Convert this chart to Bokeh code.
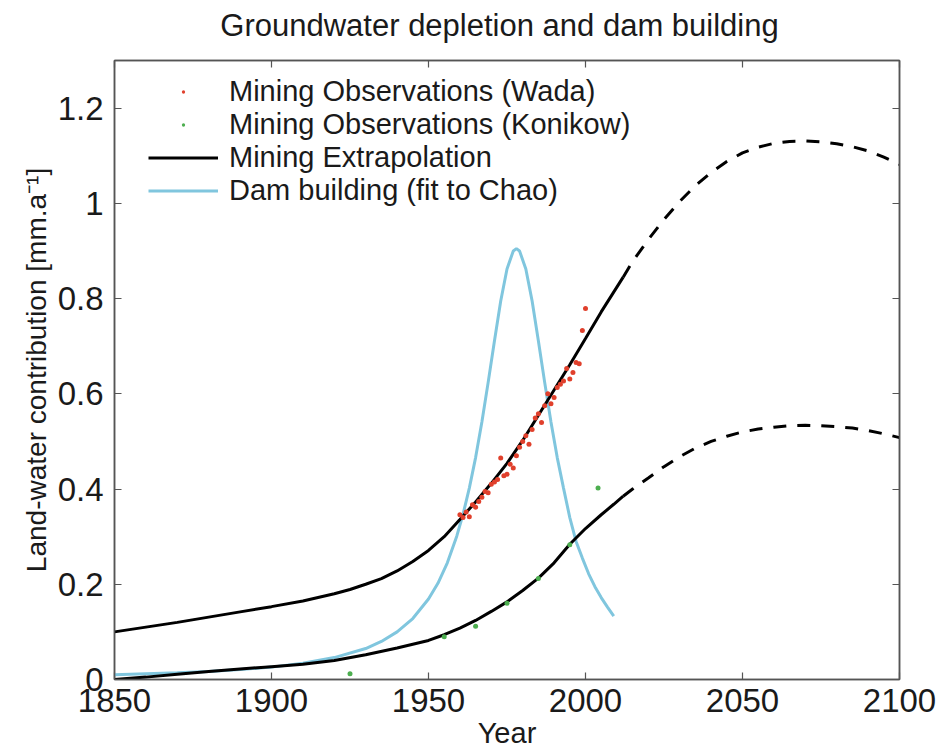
from bokeh.plotting import figure
from bokeh.models import Range1d, LinearAxis, FixedTicker, Legend, LegendItem, Label
from bokeh.embed import file_html
from bokeh.resources import INLINE

# ---------------- data ----------------
wada_years = list(range(1960, 2001))
wada_values = [0.346, 0.340, 0.352, 0.342, 0.367, 0.362, 0.374, 0.383, 0.395, 0.392,
               0.410, 0.415, 0.420, 0.465, 0.428, 0.431, 0.452, 0.444, 0.470, 0.488,
               0.500, 0.512, 0.494, 0.525, 0.549, 0.558, 0.540, 0.575, 0.600, 0.579,
               0.592, 0.613, 0.620, 0.627, 0.653, 0.631, 0.645, 0.666, 0.663, 0.733,
               0.779]

konikow_years = [1925, 1955, 1965, 1975, 1985, 1995, 2004]
konikow_values = [0.012, 0.090, 0.112, 0.160, 0.212, 0.283, 0.402]

upper_years = [1850, 1860, 1870, 1880, 1890, 1900, 1910, 1920, 1925, 1930, 1935, 1940,
               1945, 1950, 1955, 1960, 1965, 1970, 1975, 1980, 1985, 1990, 1995, 2000,
               2005, 2012]
upper_values = [0.100, 0.110, 0.120, 0.131, 0.142, 0.153, 0.165, 0.180, 0.189, 0.200,
                0.212, 0.228, 0.248, 0.271, 0.300, 0.336, 0.373, 0.412, 0.454, 0.502,
                0.555, 0.608, 0.661, 0.716, 0.772, 0.845]

upper_proj_years = [2012, 2015, 2020, 2025, 2030, 2035, 2040, 2045, 2050, 2055, 2060,
                    2065, 2070, 2075, 2080, 2085, 2090, 2095, 2100]
upper_proj_values = [0.845, 0.878, 0.924, 0.966, 1.004, 1.037, 1.065, 1.088, 1.106,
                     1.118, 1.126, 1.130, 1.131, 1.129, 1.125, 1.119, 1.110, 1.097, 1.082]

lower_years = [1850, 1860, 1870, 1880, 1890, 1900, 1910, 1920, 1930, 1940, 1950, 1955,
               1960, 1965, 1970, 1975, 1980, 1985, 1990, 1995, 2000, 2005, 2009, 2012]
lower_values = [0.000, 0.005, 0.011, 0.017, 0.022, 0.027, 0.032, 0.040, 0.052, 0.066,
                0.082, 0.094, 0.108, 0.124, 0.143, 0.163, 0.187, 0.213, 0.245, 0.284,
                0.317, 0.346, 0.368, 0.385]

lower_proj_years = [2012, 2015, 2020, 2025, 2030, 2035, 2040, 2045, 2050, 2055, 2060,
                    2065, 2070, 2075, 2080, 2085, 2090, 2095, 2100]
lower_proj_values = [0.385, 0.400, 0.423, 0.447, 0.468, 0.486, 0.500, 0.511, 0.520,
                     0.526, 0.530, 0.533, 0.534, 0.533, 0.531, 0.528, 0.523, 0.516, 0.508]

dam_years = [1850, 1860, 1870, 1880, 1890, 1900, 1910, 1920, 1930, 1935, 1940, 1945,
             1950, 1953, 1956, 1959, 1961, 1963, 1965, 1967, 1969, 1971, 1973, 1975,
             1977, 1978, 1979, 1981, 1983, 1985, 1987, 1989, 1991, 1993, 1995, 1997,
             1999, 2001, 2003, 2005, 2007, 2009]
dam_values = [0.010, 0.012, 0.014, 0.017, 0.021, 0.026, 0.034, 0.046, 0.065, 0.080,
              0.100, 0.128, 0.169, 0.202, 0.245, 0.301, 0.347, 0.402, 0.466, 0.541,
              0.624, 0.711, 0.795, 0.862, 0.900, 0.905, 0.900, 0.862, 0.795, 0.711,
              0.624, 0.541, 0.466, 0.402, 0.340, 0.290, 0.255, 0.222, 0.195, 0.172,
              0.152, 0.133]

x_ticks = [1850, 1900, 1950, 2000, 2050, 2100]
y_ticks = [0, 0.2, 0.4, 0.6, 0.8, 1, 1.2]
y_tick_labels = ["0", "0.2", "0.4", "0.6", "0.8", "1", "1.2"]

TITLE = "Groundwater depletion and dam building"
X_LABEL = "Year"
Y_LABEL = "Land-water contribution [mm.a\u207b\u00b9]"

# ---------------- styling ----------------
FONT = "Liberation Sans"
TEXT_COLOR = "#1a1a1a"
AXIS_COLOR = "#555555"
BLUE = "#80c6de"

p = figure(width=937, height=751, output_backend="svg", toolbar_location=None,
           x_range=Range1d(1850, 2100), y_range=Range1d(0, 1.3),
           min_border_left=114, min_border_right=38,
           min_border_top=60, min_border_bottom=72)

p.xgrid.visible = False
p.ygrid.visible = False
p.outline_line_color = AXIS_COLOR
p.outline_line_width = 1.5
p.background_fill_color = "white"
p.border_fill_color = "white"


def style_axis(ax, show_labels=True):
    ax.axis_line_color = AXIS_COLOR
    ax.axis_line_width = 1.5
    ax.major_tick_line_color = AXIS_COLOR
    ax.major_tick_line_width = 1.2
    ax.major_tick_in = 7
    ax.major_tick_out = 0
    ax.minor_tick_line_color = None
    ax.major_label_text_font = FONT
    ax.major_label_text_color = TEXT_COLOR
    ax.major_label_text_font_size = "33px" if show_labels else "0px"
    ax.axis_label_text_font = FONT
    ax.axis_label_text_font_size = "29px"
    ax.axis_label_text_font_style = "normal"
    ax.axis_label_text_color = TEXT_COLOR


xa = p.xaxis[0]
ya = p.yaxis[0]
xa.ticker = FixedTicker(ticks=x_ticks)
ya.ticker = FixedTicker(ticks=y_ticks)
ya.major_label_overrides = dict(zip(y_ticks, y_tick_labels))
style_axis(xa)
style_axis(ya)
ya.axis_label_text_font_size = "28px"
xa.axis_label = X_LABEL
ya.axis_label = Y_LABEL
xa.major_label_standoff = 9
xa.axis_label_standoff = 2
ya.major_label_standoff = 11
ya.axis_label_standoff = 3

top_ax = LinearAxis(ticker=FixedTicker(ticks=x_ticks))
right_ax = LinearAxis(ticker=FixedTicker(ticks=y_ticks))
style_axis(top_ax, show_labels=False)
style_axis(right_ax, show_labels=False)
top_ax.major_label_text_color = None
right_ax.major_label_text_color = None
p.add_layout(top_ax, "above")
p.add_layout(right_ax, "right")

# title as a label in the top panel (screen px relative to that panel)
title_label = Label(x=385, y=35, x_units="screen", y_units="screen", text=TITLE,
                    text_align="center", text_baseline="middle", text_font=FONT,
                    text_font_size="31px", text_color=TEXT_COLOR)
p.add_layout(title_label, "above")

# ---------------- glyphs ----------------
r_dam = p.line(dam_years, dam_values, line_color=BLUE, line_width=3)
r_up = p.line(upper_years, upper_values, line_color="black", line_width=3)
p.line(upper_proj_years, upper_proj_values, line_color="black", line_width=3,
       line_dash="13 11")
p.line(lower_years, lower_values, line_color="black", line_width=3)
p.line(lower_proj_years, lower_proj_values, line_color="black", line_width=3,
       line_dash="13 11")
r_wada = p.scatter(wada_years, wada_values, marker="dot", size=20,
                   line_color="#e0402c", fill_color="#e0402c")
r_kon = p.scatter(konikow_years, konikow_values, marker="dot", size=20,
                  line_color="#4cae4f", fill_color="#4cae4f")

legend = Legend(items=[
    LegendItem(label="Mining Observations (Wada)", renderers=[r_wada]),
    LegendItem(label="Mining Observations (Konikow)", renderers=[r_kon]),
    LegendItem(label="Mining Extrapolation", renderers=[r_up]),
    LegendItem(label="Dam building (fit to Chao)", renderers=[r_dam]),
], location=(34, 472))
legend.label_text_font = FONT
legend.label_text_font_size = "29px"
legend.label_text_color = TEXT_COLOR
legend.glyph_width = 70
legend.glyph_height = 33
legend.label_height = 33
legend.label_standoff = 11
legend.spacing = 0
legend.padding = 0
legend.margin = 0
legend.border_line_color = None
legend.background_fill_alpha = 0
p.add_layout(legend, "center")

open("out.html", "w").write(file_html(p, INLINE))
